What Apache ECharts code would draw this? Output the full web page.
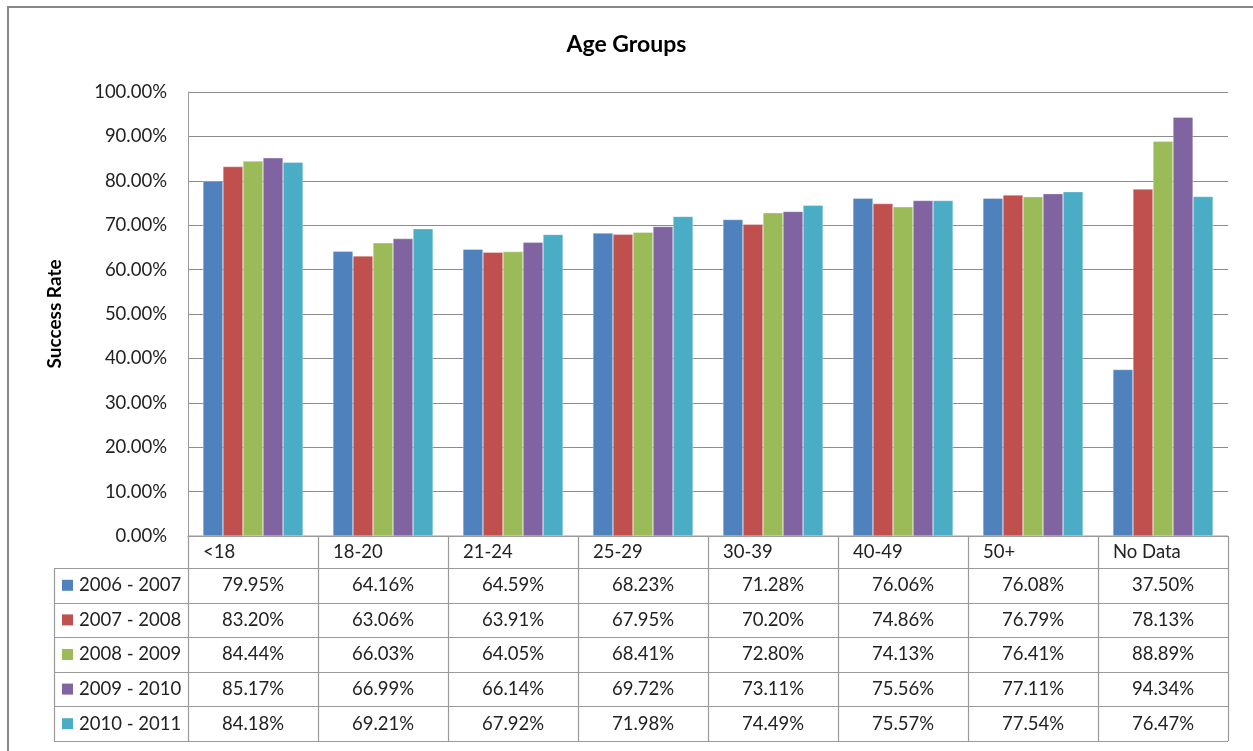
<!DOCTYPE html>
<html>
<head>
<meta charset="utf-8">
<script src="https://cdn.jsdelivr.net/npm/echarts@6/dist/echarts.min.js"></script>
<style>
  html, body { margin: 0; padding: 0; background: #fff; }
  #chart { width: 1253px; height: 751px; }
</style>
</head>
<body>
<div id="chart"></div>
<script>
// Age group categories and yearly success rates (percent)
var categories = ['<18', '18-20', '21-24', '25-29', '30-39', '40-49', '50+', 'No Data'];
var seriesNames = ['2006 - 2007', '2007 - 2008', '2008 - 2009', '2009 - 2010', '2010 - 2011'];
var rates2006 = [79.95, 64.16, 64.59, 68.23, 71.28, 76.06, 76.08, 37.50];
var rates2007 = [83.20, 63.06, 63.91, 67.95, 70.20, 74.86, 76.79, 78.13];
var rates2008 = [84.44, 66.03, 64.05, 68.41, 72.80, 74.13, 76.41, 88.89];
var rates2009 = [85.17, 66.99, 66.14, 69.72, 73.11, 75.56, 77.11, 94.34];
var rates2010 = [84.18, 69.21, 67.92, 71.98, 74.49, 75.57, 77.54, 76.47];
var seriesData = [rates2006, rates2007, rates2008, rates2009, rates2010];
var colors = ['#4F81BD', '#C0504D', '#9BBB59', '#8064A2', '#4BACC6'];

var FONT = 'Lato';
var FS = 18.5;
var GRID = { left: 188, top: 92, width: 1040, height: 444 };
var HEADER_H = 32;
var ROW_H = 34.6;
var TABLE_LEFT = 54;
var LINE = '#9a9a9a';

var chart = echarts.init(document.getElementById('chart'), null, { renderer: 'canvas' });

var option = {
  backgroundColor: '#fff',
  animation: false,
  color: colors,
  title: {
    text: 'Age Groups',
    left: 'center',
    top: 28,
    textStyle: { fontFamily: FONT, fontWeight: 'bold', fontSize: 23, color: '#000' }
  },
  grid: GRID,
  xAxis: {
    type: 'category',
    data: categories,
    axisLine: { show: true, lineStyle: { color: LINE, width: 1 } },
    axisTick: { show: false },
    axisLabel: { show: false },
    splitLine: { show: false }
  },
  yAxis: {
    type: 'value',
    min: 0,
    max: 100,
    interval: 10,
    name: 'Success Rate',
    nameLocation: 'middle',
    nameGap: 124,
    nameTextStyle: { fontFamily: FONT, fontWeight: 'bold', fontSize: 19, color: '#000' },
    axisLine: { show: true, lineStyle: { color: LINE, width: 1 } },
    axisTick: { show: false },
    axisLabel: {
      fontFamily: FONT, fontSize: FS, color: '#222', margin: 21,
      formatter: function (v) { return v.toFixed(2) + '%'; }
    },
    splitLine: { show: true, lineStyle: { color: '#8c8c8c', width: 1 } }
  },
  series: seriesNames.map(function (name, i) {
    return {
      name: name,
      type: 'bar',
      data: seriesData[i],
      barGap: '0%',
      barCategoryGap: '23%',
      itemStyle: { color: colors[i], borderColor: 'rgba(255,255,255,0.6)', borderWidth: 0.5 }
    };
  })
};
chart.setOption(option);

// Data table under the plot, aligned to the category bands
function buildTable() {
  var g = [];
  var x0 = GRID.left;
  var x1 = GRID.left + GRID.width;
  var yTop = GRID.top + GRID.height;
  var band = GRID.width / categories.length;
  var rowTop = yTop + HEADER_H;
  var yBottom = rowTop + ROW_H * seriesNames.length;
  var lineStyle = { stroke: LINE, lineWidth: 1.2 };

  // horizontal rules
  g.push({ type: 'line', shape: { x1: x0, y1: yTop, x2: x1, y2: yTop }, style: lineStyle });
  for (var r = 0; r <= seriesNames.length; r++) {
    var y = Math.round(rowTop + ROW_H * r) + 0.5;
    g.push({ type: 'line', shape: { x1: TABLE_LEFT, y1: y, x2: x1, y2: y }, style: lineStyle });
  }
  // vertical rules
  g.push({ type: 'line', shape: { x1: TABLE_LEFT + 0.5, y1: rowTop, x2: TABLE_LEFT + 0.5, y2: yBottom }, style: lineStyle });
  for (var c = 0; c <= categories.length; c++) {
    var xc = Math.round(x0 + band * c) + 0.5;
    g.push({ type: 'line', shape: { x1: xc, y1: yTop, x2: xc, y2: yBottom }, style: lineStyle });
  }
  // category header labels
  categories.forEach(function (cat, c) {
    g.push({
      type: 'text',
      x: x0 + band * c + 15,
      y: yTop + HEADER_H / 2,
      style: { text: cat, fontFamily: FONT, fontSize: FS, fill: '#222', textAlign: 'left', textVerticalAlign: 'middle' }
    });
  });
  // series rows: legend key, name and values
  seriesNames.forEach(function (name, r) {
    var cy = rowTop + ROW_H * r + ROW_H / 2;
    g.push({ type: 'rect', shape: { x: 62, y: cy - 5.5, width: 11, height: 11 }, style: { fill: colors[r] } });
    g.push({
      type: 'text', x: 79, y: cy,
      style: { text: name, fontFamily: FONT, fontSize: FS, fill: '#222', textAlign: 'left', textVerticalAlign: 'middle' }
    });
    seriesData[r].forEach(function (v, c) {
      g.push({
        type: 'text', x: x0 + band * c + band / 2, y: cy,
        style: { text: v.toFixed(2) + '%', fontFamily: FONT, fontSize: FS, fill: '#222', textAlign: 'center', textVerticalAlign: 'middle' }
      });
    });
  });
  // outer frame
  g.push({ type: 'rect', shape: { x: 8, y: 7, width: 1260, height: 760 }, style: { fill: 'none', stroke: '#878787', lineWidth: 2 } });
  return g;
}

chart.setOption({ graphic: buildTable() });
</script>
</body>
</html>
